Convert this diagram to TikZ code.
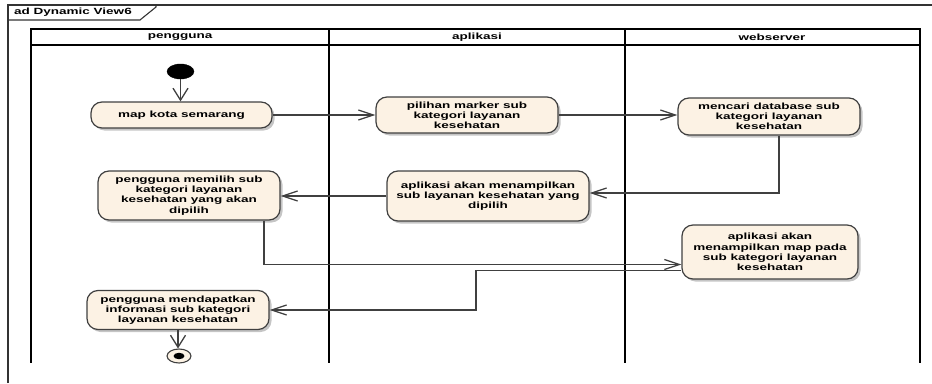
\documentclass[tikz,border=0pt]{standalone}
\usepackage{fontspec}
\newfontfamily\eafont{Liberation Sans}[FakeStretch=1.5]
\usetikzlibrary{arrows.meta,shadows,shapes.geometric}
\definecolor{actfill}{RGB}{252,242,228}
\definecolor{linegray}{RGB}{64,64,64}
\begin{document}
\begin{tikzpicture}[x=1pt,y=-1pt,
  every node/.style={font=\eafont\bfseries\fontsize{9}{10.2}\selectfont},
  act/.style={draw=linegray, line width=1.2pt, fill=actfill, rounded corners=11pt,
    align=center, inner sep=0pt,
    drop shadow={shadow xshift=2.5pt,shadow yshift=-2.5pt,fill=black!45,opacity=0.5}},
  flow/.style={draw=linegray, line width=1.3pt},
  harr/.style={-{Straight Barb[length=15pt,width=10pt]}},
  varr/.style={-{Straight Barb[length=12pt,width=15pt]}},
  lane/.style={draw=black, line width=1.5pt},
  lanelabel/.style={inner sep=0pt}]
\useasboundingbox (0,0) rectangle (932,383);
% frame
\draw[line width=1.1pt, black!80] (8,383) -- (8,5) -- (932,5);
\draw[line width=1.1pt, black!80] (8,20) -- (140,20) -- (156,7) -- (156,5);
\node[anchor=west, inner sep=0pt] (title) at (14,12.5) {ad Dynamic View6};
% swimlanes
\draw[lane] (31,29) rectangle (920,45);
\draw[lane] (31,45) -- (31,363);
\draw[lane] (329,29) -- (329,363);
\draw[lane] (625,29) -- (625,363);
\draw[lane] (920,45) -- (920,363);
\node[lanelabel] (h1) at (180,37) {pengguna};
\node[lanelabel] (h2) at (477,37) {aplikasi};
\node[lanelabel] (h3) at (772,37) {webserver};
% nodes
\node[ellipse, draw=black, fill=black, minimum width=27pt, minimum height=15pt, inner sep=0pt] (init) at (180.5,71.5) {};
\node[act, minimum width=181pt, minimum height=26pt] (map) at (181.5,115) {map kota semarang};
\node[act, minimum width=182pt, minimum height=36pt] (pil) at (467,115) {pilihan marker sub\\kategori layanan\\kesehatan};
\node[act, minimum width=182pt, minimum height=37pt] (mencari) at (769,116.5) {mencari database sub\\kategori layanan\\kesehatan};
\node[act, minimum width=202pt, minimum height=50pt] (apsub) at (488,196) {aplikasi akan menampilkan\\sub layanan kesehatan yang\\dipilih};
\node[act, minimum width=182pt, minimum height=49pt] (memilih) at (189,195.5) {pengguna memilih sub\\kategori layanan\\kesehatan yang akan\\dipilih};
\node[act, minimum width=176pt, minimum height=54pt] (apmap) at (770,252) {aplikasi akan\\menampilkan map pada\\sub kategori layanan\\kesehatan};
\node[act, minimum width=182pt, minimum height=39pt] (mend) at (178,310) {pengguna mendapatkan\\informasi sub kategori\\layanan kesehatan};
\node[ellipse, draw=linegray, line width=1.1pt, fill=actfill, minimum width=24pt, minimum height=14pt, inner sep=0pt] (fin) at (179,356) {};
\fill[black] (fin.center) ellipse (5.5 and 3.2);
\coordinate (bend) at (476,0);
% connectors
\draw[flow,varr] (init) -- (init |- map.north);
\draw[flow,harr] (map.east) -- (map.east -| pil.west);
\draw[flow,harr] (pil.east) -- (pil.east -| mencari.west);
\draw[flow,harr] ([xshift=10pt]mencari.south) |- ([yshift=3pt]apsub.east);
\draw[flow,harr] (apsub.west) -- (apsub.west -| memilih.east);
\draw[flow,harr] ([xshift=75pt]memilih.south) |- ([yshift=-12.5pt]apmap.west);
\draw[flow,harr] ([yshift=-18.5pt]apmap.west) coordinate (s7) -- (s7 -| bend) -- (bend |- mend.east) -- (mend.east);
\draw[flow,varr] (mend.south) -- (mend.south |- fin.north);
\end{tikzpicture}
\end{document}
